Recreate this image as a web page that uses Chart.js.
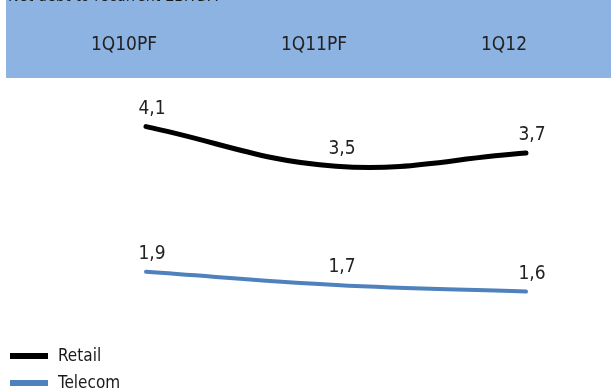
<!DOCTYPE html>
<html>
<head>
<meta charset="utf-8">
<script src="https://cdn.jsdelivr.net/npm/chart.js@4/dist/chart.umd.min.js"></script>
<style>
  body { margin: 0; background: #fff; }
  #wrap { position: relative; width: 611px; height: 392px; overflow: hidden; }
  #heading { position: absolute; left: 8px; top: -14px; font: 16px "DejaVu Sans Condensed", sans-serif; color: #1a1a1a; z-index: 2; }
  .key { position: absolute; left: 10px; font: 17px "DejaVu Sans Condensed", sans-serif; color: #1a1a1a; white-space: nowrap; }
  .key span { display: inline-block; width: 38px; height: 6px; margin-right: 10px; vertical-align: middle; }
</style>
</head>
<body>
<div id="wrap">
  <div id="heading">Net debt to recurrent EBITDA</div>
  <canvas id="debtChart" width="611" height="392"></canvas>
  <div id="legend"></div>
</div>
<script>
var quarters = ['1Q10PF', '1Q11PF', '1Q12'];
var retail = [4.1, 3.5, 3.7];
var telecom = [1.9, 1.7, 1.6];
var seriesNames = ['Retail', 'Telecom'];
var seriesColors = ['#000000', '#4f81bd'];
var lineWidths = [5, 4];

// blue band behind the quarter labels
const bandPlugin = {
    id: 'band',
    beforeDraw(chart) {
        const ctx = chart.ctx;
        ctx.save();
        ctx.fillStyle = '#8db3e2';
        ctx.fillRect(6, 0, chart.width - 6, 78);
        ctx.restore();
    }
};

// value written above each point, with a decimal comma
const valuePlugin = {
    id: 'values',
    afterDatasetsDraw(chart) {
        const ctx = chart.ctx;
        ctx.save();
        ctx.font = '19px "DejaVu Sans Condensed", sans-serif';
        ctx.fillStyle = '#222';
        ctx.textAlign = 'center';
        ctx.textBaseline = 'bottom';
        chart.data.datasets.forEach((ds, i) => {
            chart.getDatasetMeta(i).data.forEach((pt, j) => {
                ctx.fillText(ds.data[j].toFixed(1).replace('.', ','), pt.x + 6, pt.y - 8);
            });
        });
        ctx.restore();
    }
};

const legend = document.getElementById('legend');
seriesNames.forEach((name, i) => {
    legend.innerHTML += '<div class="key" style="top:' + (345 + i * 27) + 'px"><span style="background:' +
        seriesColors[i] + '"></span>' + name + '</div>';
});

new Chart(document.getElementById('debtChart'), {
    type: 'line',
    data: {
        labels: quarters,
        datasets: [retail, telecom].map((values, i) => ({
            label: seriesNames[i],
            data: values,
            borderColor: seriesColors[i],
            borderWidth: lineWidths[i],
            borderCapStyle: 'round',
            tension: 0.4,
            pointRadius: 0,
            clip: false
        }))
    },
    options: {
        responsive: false,
        animation: false,
        layout: { padding: { left: 146, right: 85, top: 0, bottom: 74 } },
        plugins: { legend: { display: false }, tooltip: { enabled: false } },
        scales: {
            x: {
                position: 'top',
                offset: false,
                grid: { display: false, drawTicks: false },
                border: { display: false },
                afterFit: s => { s.height = 87; },
                ticks: {
                    padding: 31,
                    labelOffset: -22,
                    color: '#222',
                    font: { family: '"DejaVu Sans Condensed", sans-serif', size: 19 }
                }
            },
            y: { display: false, min: 1.2, max: 4.7 }
        }
    },
    plugins: [bandPlugin, valuePlugin]
});
</script>
</body>
</html>
